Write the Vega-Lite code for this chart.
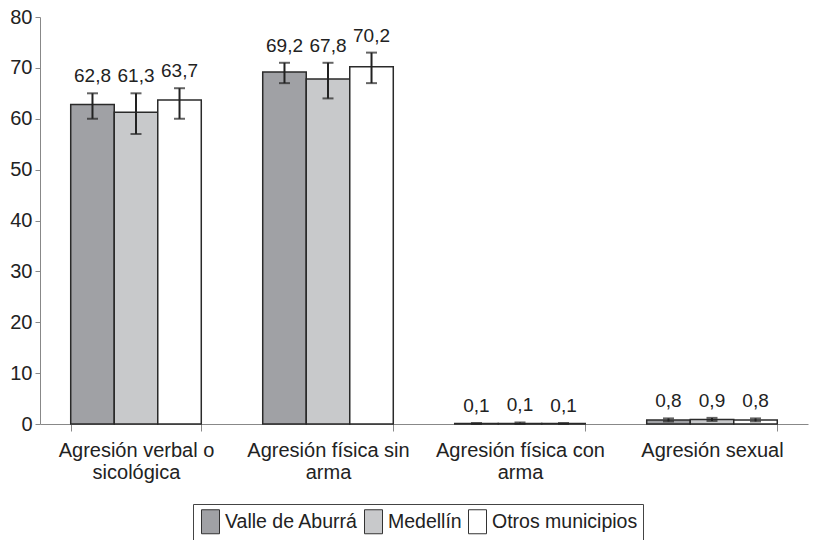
{
  "$schema": "https://vega.github.io/schema/vega-lite/v6.json",
  "width": 768,
  "height": 407,
  "autosize": "none",
  "padding": {"left": 40, "top": 17, "right": 5, "bottom": 116},
  "background": "white",
  "config": {
    "font": "Liberation Sans",
    "view": {"stroke": null},
    "axis": {"labelFont": "Liberation Sans", "labelColor": "#222", "labelFontSize": 20, "domainColor": "#888", "tickColor": "#888", "grid": false, "title": null}
  },
  "data": {
    "values": [
      {"cat": "Agresión verbal o sicológica", "serie": "Valle de Aburrá", "v": 62.8, "lo": 60, "hi": 65, "label": "62,8"},
      {"cat": "Agresión verbal o sicológica", "serie": "Medellín", "v": 61.3, "lo": 57, "hi": 65, "label": "61,3"},
      {"cat": "Agresión verbal o sicológica", "serie": "Otros municipios", "v": 63.7, "lo": 60, "hi": 66, "label": "63,7"},
      {"cat": "Agresión física sin arma", "serie": "Valle de Aburrá", "v": 69.2, "lo": 67, "hi": 71, "label": "69,2"},
      {"cat": "Agresión física sin arma", "serie": "Medellín", "v": 67.8, "lo": 64, "hi": 71, "label": "67,8"},
      {"cat": "Agresión física sin arma", "serie": "Otros municipios", "v": 70.2, "lo": 67, "hi": 73, "label": "70,2"},
      {"cat": "Agresión física con arma", "serie": "Valle de Aburrá", "v": 0.1, "lo": 0.0, "hi": 0.2, "label": "0,1"},
      {"cat": "Agresión física con arma", "serie": "Medellín", "v": 0.1, "lo": 0.0, "hi": 0.3, "label": "0,1"},
      {"cat": "Agresión física con arma", "serie": "Otros municipios", "v": 0.1, "lo": 0.0, "hi": 0.2, "label": "0,1"},
      {"cat": "Agresión sexual", "serie": "Valle de Aburrá", "v": 0.8, "lo": 0.5, "hi": 1.1, "label": "0,8"},
      {"cat": "Agresión sexual", "serie": "Medellín", "v": 0.9, "lo": 0.6, "hi": 1.2, "label": "0,9"},
      {"cat": "Agresión sexual", "serie": "Otros municipios", "v": 0.8, "lo": 0.5, "hi": 1.1, "label": "0,8"}
    ]
  },
  "encoding": {
    "x": {
      "field": "cat", "type": "nominal", "sort": null,
      "scale": {"paddingInner": 0.32, "paddingOuter": 0.16},
      "axis": {
        "labelAngle": 0, "tickBand": "extent", "tickSize": 7, "labelPadding": 9, "labelLineHeight": 22,
        "labelExpr": "datum.value == 'Agresión verbal o sicológica' ? ['Agresión verbal o', 'sicológica'] : datum.value == 'Agresión física sin arma' ? ['Agresión física sin', 'arma'] : datum.value == 'Agresión física con arma' ? ['Agresión física con', 'arma'] : datum.value"
      }
    },
    "xOffset": {"field": "serie", "type": "nominal", "sort": ["Valle de Aburrá", "Medellín", "Otros municipios"], "scale": {"paddingInner": 0}}
  },
  "layer": [
    {
      "mark": {"type": "bar", "stroke": "#2a2a2a", "strokeWidth": 1.5},
      "encoding": {
        "y": {"field": "v", "type": "quantitative", "scale": {"domain": [0, 80]}, "axis": {"values": [0, 10, 20, 30, 40, 50, 60, 70, 80], "tickSize": 5, "labelPadding": 3}},
        "fill": {
          "field": "serie", "type": "nominal", "sort": ["Valle de Aburrá", "Medellín", "Otros municipios"],
          "scale": {"domain": ["Valle de Aburrá", "Medellín", "Otros municipios"], "range": ["#a0a1a5", "#c8c9cb", "#ffffff"]},
          "legend": {
            "title": null, "orient": "none", "legendX": 153, "legendY": 487, "direction": "horizontal",
            "symbolType": "M-0.75,-1H0.75V1H-0.75Z", "symbolSize": 576, "symbolStrokeColor": "#333", "symbolStrokeWidth": 1,
            "labelFontSize": 19.5, "labelColor": "#222", "labelFont": "Liberation Sans", "columnPadding": 3, "labelOffset": 2,
            "strokeColor": "#444", "padding": 5, "fillColor": "white"
          }
        }
      }
    },
    {
      "mark": {"type": "rule", "color": "#222", "strokeWidth": 2},
      "encoding": {"y": {"field": "lo", "type": "quantitative"}, "y2": {"field": "hi"}}
    },
    {
      "mark": {"type": "tick", "color": "#222", "size": 11, "thickness": 2},
      "encoding": {"y": {"field": "lo", "type": "quantitative"}}
    },
    {
      "mark": {"type": "tick", "color": "#222", "size": 11, "thickness": 2},
      "encoding": {"y": {"field": "hi", "type": "quantitative"}}
    },
    {
      "mark": {"type": "text", "fontSize": 19, "color": "#222", "baseline": "alphabetic", "dy": -11},
      "encoding": {"y": {"field": "hi", "type": "quantitative"}, "text": {"field": "label"}}
    }
  ]
}
